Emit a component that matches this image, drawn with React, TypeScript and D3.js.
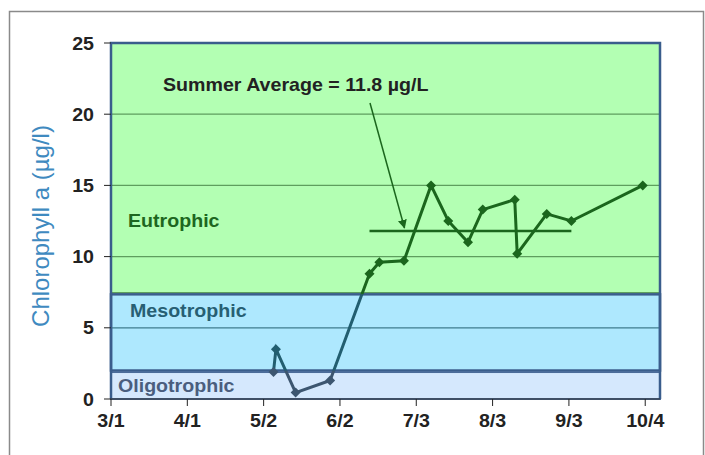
import React from "react";
import * as d3 from "d3";

// sampling dates and chlorophyll a readings (ug/l)
const sampleDates = [
  "2010-05-06", "2010-05-07", "2010-05-15", "2010-05-29", "2010-06-14",
  "2010-06-18", "2010-06-28", "2010-07-09", "2010-07-16", "2010-07-24",
  "2010-07-30", "2010-08-12", "2010-08-13", "2010-08-25", "2010-09-04",
  "2010-10-03",
];
const chlValues = [1.9, 3.5, 0.45, 1.3, 8.8, 9.6, 9.7, 15.0, 12.5, 11.0, 13.3, 14.0, 10.2, 13.0, 12.5, 15.0];

const summerAverage = 11.8;
const summerRange = ["2010-06-14", "2010-09-04"];

const xTickLabels = ["3/1", "4/1", "5/2", "6/2", "7/3", "8/3", "9/3", "10/4"];
const yTickValues = [0, 5, 10, 15, 20, 25];

// trophic state limits (ug/l)
const trophicNames = ["Oligotrophic", "Mesotrophic", "Eutrophic"];
const trophicLimits = [0, 2, 7.35, 25];

const parse = d3.timeParse("%Y-%m-%d");

// the original chart's text is a little wider than Arial, so stretch it
const stretch = 1.09;

export default function App() {
  const margin = { top: 43, right: 45, bottom: 56, left: 111 };
  const W = 705;
  const H = 455;
  const width = W - margin.left - margin.right;
  const height = H - margin.top - margin.bottom;

  const start = parse("2010-03-01") as Date;
  const end = parse("2010-10-10") as Date;
  const x = d3.scaleTime().domain([start, end]).range([0, width]);
  const y = d3.scaleLinear().domain([0, 25]).range([height, 0]);

  const tickDates = xTickLabels.map((_, i) => d3.timeDay.offset(start, i * 31));

  const pts = sampleDates.map((d, i) => ({ date: parse(d) as Date, value: chlValues[i] }));
  const line = d3
    .line<{ date: Date; value: number }>()
    .x((d) => x(d.date))
    .y((d) => y(d.value));

  const font = "Arial, 'Liberation Sans', sans-serif";
  const diamond = d3.symbol(d3.symbolSquare, 50)() as string;

  // per band colours: fill, line colour, gridline colour, label colour
  const bandFill = ["#d5e8fd", "#aee8fe", "#b3ffb3"];
  const bandLine = ["#3d5670", "#225e70", "#1b661d"];
  const bandGrid = ["#4a6a8a", "#3f7d8e", "#5e9e5e"];
  const bandText = ["#4a5e7e", "#275f73", "#1d6620"];
  const bandLabelPos = [
    { x: 7, y: 392 },
    { x: 19, y: 317 },
    { x: 17, y: 227 },
  ];

  const bandOf = (v: number) => (v < trophicLimits[1] ? 0 : v < trophicLimits[2] ? 1 : 2);

  const avgX1 = x(parse(summerRange[0]) as Date);
  const avgX2 = x(parse(summerRange[1]) as Date);
  const avgY = y(summerAverage);

  const arrowFrom = [370 - margin.left, 103 - margin.top];
  const arrowTo = [avgX1 + 35, avgY - 3];

  const boldText = (
    key: string,
    tx: number,
    ty: number,
    content: React.ReactNode,
    fill: string,
    anchor: string = "start"
  ) => (
    <text
      key={key}
      transform={`translate(${tx},${ty}) scale(${stretch},1)`}
      textAnchor={anchor}
      fill={fill}
      fontFamily={font}
      fontWeight="bold"
      fontSize={18}
    >
      {content}
    </text>
  );

  return (
    <svg width={W} height={H} style={{ position: "absolute", left: 0, top: 0 }}>
      <defs>
        {[0, 1, 2].map((b) => (
          <clipPath id={"band" + b} key={b}>
            <rect
              x={-10}
              y={y(trophicLimits[b + 1])}
              width={width + 20}
              height={y(trophicLimits[b]) - y(trophicLimits[b + 1]) + (b === 0 ? 10 : 0)}
            />
          </clipPath>
        ))}
        <marker id="arrow" viewBox="0 0 10 10" refX="9" refY="5" markerWidth="6" markerHeight="7" orient="auto">
          <path d="M0,0 L10,5 L0,10 Z" fill="#1b661d" />
        </marker>
      </defs>
      <rect x={9.5} y={11.5} width={694} height={460} fill="#fff" stroke="#8a8a8a" strokeWidth={1.5} />
      <g transform={`translate(${margin.left},${margin.top})`}>
        {/* trophic bands */}
        <rect x={0} y={0} width={width} height={y(trophicLimits[2])} fill={bandFill[2]} />
        <line x1={0} x2={width} y1={y(trophicLimits[2]) - 1.5} y2={y(trophicLimits[2]) - 1.5} stroke="#5e9e5e" strokeWidth={1.5} />
        <rect
          x={0}
          y={y(trophicLimits[2])}
          width={width}
          height={y(trophicLimits[1]) - y(trophicLimits[2])}
          fill={bandFill[1]}
          stroke="#3a5d8c"
          strokeWidth={2.5}
        />
        <rect
          x={0}
          y={y(trophicLimits[1]) + 1.5}
          width={width}
          height={y(0) - y(trophicLimits[1]) - 1.5}
          fill={bandFill[0]}
          stroke="#4c6c9a"
          strokeWidth={2}
        />
        {/* gridlines */}
        {yTickValues
          .filter((v) => v > 0 && v < 25)
          .map((v) => (
            <line key={v} x1={0} x2={width} y1={y(v)} y2={y(v)} stroke={bandGrid[bandOf(v)]} strokeWidth={1.2} />
          ))}
        {/* plot border */}
        <path
          d={`M0,${height} V0 H${width} V${height}`}
          fill="none"
          stroke="#3a5d8c"
          strokeWidth={2.5}
        />
        <line x1={0} x2={width} y1={height} y2={height} stroke="#333" strokeWidth={1} />

        {/* band labels */}
        {trophicNames.map((n, b) =>
          boldText(n, bandLabelPos[b].x, bandLabelPos[b].y - margin.top, n, bandText[b])
        )}

        {/* summer average line and note */}
        <line x1={avgX1} x2={avgX2} y1={avgY} y2={avgY} stroke="#1b661d" strokeWidth={2.5} />
        <line
          x1={arrowFrom[0]}
          y1={arrowFrom[1]}
          x2={arrowTo[0]}
          y2={arrowTo[1]}
          stroke="#1b661d"
          strokeWidth={1.5}
          markerEnd="url(#arrow)"
        />
        {boldText("note", 163 - margin.left, 91 - margin.top, `Summer Average = ${summerAverage} µg/L`, "#222")}

        {/* series, coloured by the band it runs through */}
        {[0, 1, 2].map((b) => (
          <g key={b} clipPath={`url(#band${b})`}>
            <path d={line(pts) as string} fill="none" stroke={bandLine[b]} strokeWidth={3} />
          </g>
        ))}
        {pts.map((p, i) => (
          <path
            key={i}
            d={diamond}
            transform={`translate(${x(p.date)},${y(p.value)}) rotate(45)`}
            fill={bandLine[bandOf(p.value)]}
          />
        ))}

        {/* y axis */}
        {yTickValues.map((v) => (
          <g key={v} transform={`translate(0,${y(v)})`}>
            <line x1={-7} x2={0} stroke="#222" strokeWidth={1} />
            {boldText("t", -17, 6.5, v, "#222", "end")}
          </g>
        ))}
        {/* x axis */}
        {tickDates.map((d, i) => (
          <g key={i} transform={`translate(${x(d)},${height})`}>
            <line y1={0} y2={7} stroke="#222" strokeWidth={1} />
            {boldText("t", 0, 28, xTickLabels[i], "#222", "middle")}
          </g>
        ))}
      </g>
      <text
        transform={`translate(49,${margin.top + height / 2 + 5}) rotate(-90)`}
        textAnchor="middle"
        fill="#3f8ac0"
        fontFamily={font}
        fontSize={24}
      >
        Chlorophyll a (µg/l)
      </text>
    </svg>
  );
}
